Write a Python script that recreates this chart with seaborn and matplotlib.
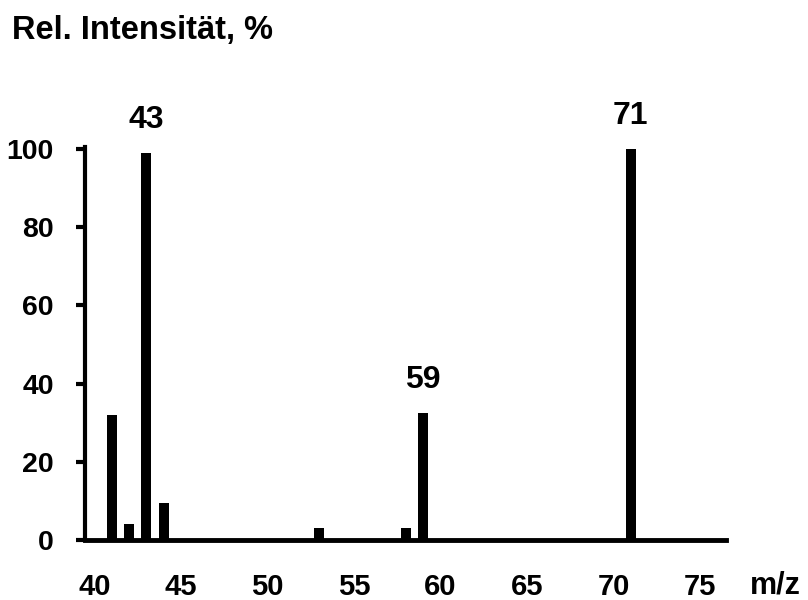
import matplotlib
matplotlib.use("Agg")
import matplotlib.pyplot as plt
import seaborn as sns
import pandas as pd

# Data
mz = [41, 42, 43, 44, 53, 58, 59, 71]
intensity = [32, 4, 99, 9.5, 3, 3, 32.5, 100]
labeled_peaks = [43, 59, 71]
ytick_vals = [0, 20, 40, 60, 80, 100]
xtick_vals = [40, 45, 50, 55, 60, 65, 70, 75]
title = "Rel. Intensität, %"
xlabel = "m/z"

sns.set_theme(style="white")
plt.rcParams['font.family'] = ['Liberation Sans', 'DejaVu Sans']
plt.rcParams['font.weight'] = 'bold'
plt.rcParams['text.color'] = 'black'

df = pd.DataFrame({"mz": mz, "intensity": intensity})

fig = plt.figure(figsize=(8.08, 6.0), dpi=100)
ax = fig.add_axes([85/808, 60/600, (726-85)/808, (540-147)/600])

sns.barplot(data=df, x="mz", y="intensity", native_scale=True, width=0.58,
            color="black", saturation=1, ax=ax, errorbar=None)
for p in ax.patches:
    p.set_edgecolor("none")

ax.set_xlim(39.45, 76.5)
ax.set_ylim(0, 100.5)

for m, v in zip(mz, intensity):
    if m in labeled_peaks:
        ax.text(m, v + 8.5, str(m), ha="center", va="center", fontsize=23,
                fontweight="bold", color="black", clip_on=False)

ax.set_yticks(ytick_vals)
ax.set_yticklabels([str(v) for v in ytick_vals], fontsize=20.5, fontweight="bold")
ax.set_xticks(xtick_vals)
ax.set_xticklabels([str(v) for v in xtick_vals], fontsize=21, fontweight="bold")
ax.tick_params(axis="y", direction="out", length=6.5, width=3, pad=16,
               colors="black", left=True)
ax.tick_params(axis="x", length=0, pad=24, colors="black", bottom=True)
ax.set_xlabel("")
ax.set_ylabel("")

for s in ["top", "right"]:
    ax.spines[s].set_visible(False)
for s in ["left", "bottom"]:
    ax.spines[s].set_visible(True)
    ax.spines[s].set_color("black")
ax.spines["left"].set_linewidth(3)
ax.spines["bottom"].set_linewidth(3.5)
ax.grid(False)

fig.text(12/808, 1 - 31/600, title, ha="left", va="center", fontsize=23.5,
         fontweight="bold", color="black")
fig.text(775/808, 1 - 585/600, xlabel, ha="center", va="center", fontsize=22,
         fontweight="bold", color="black")

fig.savefig("out.png", dpi=100, facecolor="white")
